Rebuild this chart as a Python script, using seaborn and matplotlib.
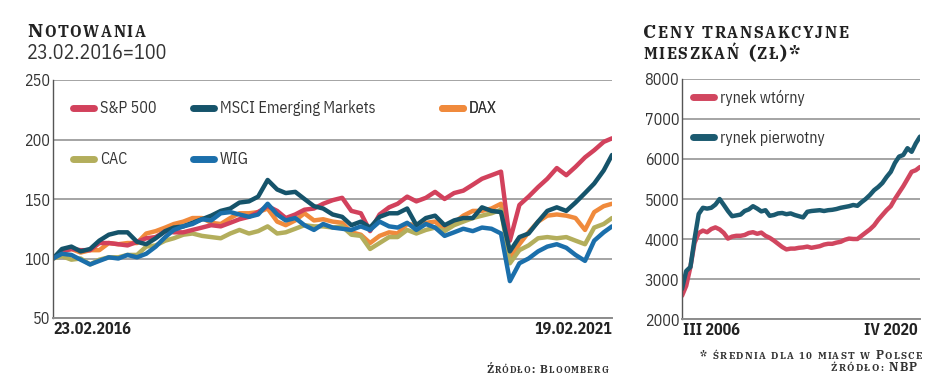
import matplotlib
matplotlib.use('Agg')
import pandas as pd
import matplotlib.pyplot as plt
import seaborn as sns
from matplotlib.lines import Line2D
from matplotlib.transforms import IdentityTransform

# Left chart: monthly index levels, 23.02.2016 = 100
sp500 = [100, 106, 108, 107, 107, 113, 113, 112, 111, 114, 117, 118, 123, 122, 122, 124,
         126, 128, 127, 130, 133, 135, 139, 144, 140, 134, 137, 141, 142, 146, 149, 151,
         140, 138, 123, 137, 143, 146, 152, 148, 151, 156, 150, 155, 157, 162, 167, 170,
         173, 115, 145, 152, 160, 167, 176, 170, 177, 185, 191, 198, 201]
msci_em = [100, 108, 110, 106, 108, 115, 120, 122, 122, 114, 112, 117, 123, 126, 127, 130,
           133, 136, 140, 142, 147, 148, 152, 166, 158, 155, 156, 150, 144, 142, 137, 135,
           128, 131, 126, 135, 138, 138, 142, 128, 134, 136, 128, 132, 134, 134, 143, 140,
           139, 106, 118, 121, 131, 140, 143, 140, 147, 155, 163, 174, 187]
dax = [100, 106, 108, 105, 107, 107, 113, 112, 113, 113, 121, 123, 126, 129, 131, 134,
       134, 130, 129, 134, 138, 138, 139, 142, 131, 128, 132, 138, 132, 133, 131, 130,
       122, 120, 113, 119, 122, 121, 129, 128, 130, 131, 124, 130, 136, 140, 140, 142,
       146, 100, 112, 122, 131, 136, 137, 136, 134, 124, 139, 144, 146]
cac = [100, 102, 99, 100, 95, 99, 101, 101, 103, 103, 110, 111, 115, 117, 120, 121,
       119, 118, 117, 121, 124, 121, 123, 127, 121, 122, 125, 128, 127, 127, 126, 127,
       120, 119, 108, 113, 118, 118, 124, 121, 124, 126, 123, 128, 131, 134, 136, 138,
       141, 96, 107, 111, 117, 118, 117, 118, 115, 112, 126, 129, 134]
wig = [100, 104, 103, 99, 95, 98, 101, 100, 103, 101, 104, 110, 118, 124, 127, 129,
       133, 132, 138, 139, 137, 135, 137, 146, 137, 132, 134, 128, 124, 129, 126, 125,
       124, 127, 124, 131, 127, 126, 130, 124, 129, 126, 119, 122, 125, 123, 126, 125,
       121, 81, 96, 100, 106, 110, 112, 109, 103, 98, 115, 122, 127]
index_names = ['S&P 500', 'MSCI Emerging Markets', 'DAX', 'CAC', 'WIG']
index_colors = ['#d2415c', '#15536a', '#f08a3c', '#b3ae5c', '#1b6fab']

# Right chart: quarterly flat prices (zł), III 2006 - IV 2020
rynek_pierwotny = [2750, 3200, 3300, 4000, 4625, 4780, 4760, 4780, 4860, 5000, 4850, 4700,
                   4570, 4590, 4610, 4700, 4740, 4820, 4760, 4690, 4720, 4580, 4600, 4640,
                   4650, 4620, 4640, 4600, 4570, 4540, 4680, 4700, 4710, 4720, 4700, 4720,
                   4730, 4750, 4780, 4800, 4820, 4850, 4830, 4920, 5000, 5100, 5220, 5300,
                   5400, 5550, 5680, 5900, 6060, 6100, 6270, 6180, 6390, 6560]
rynek_wtorny = [2580, 2830, 3300, 3900, 4150, 4210, 4170, 4250, 4290, 4240, 4150, 4010,
                4060, 4080, 4080, 4100, 4150, 4170, 4130, 4160, 4080, 4030, 3960, 3880,
                3800, 3740, 3760, 3760, 3780, 3790, 3810, 3780, 3800, 3820, 3860, 3880,
                3880, 3910, 3930, 3980, 4010, 4000, 4000, 4080, 4160, 4240, 4340, 4480,
                4600, 4720, 4820, 5000, 5160, 5320, 5500, 5680, 5720, 5800]
market_names = ['rynek wtórny', 'rynek pierwotny']
market_colors = ['#d1465f', '#1b5a70']

# Build long-form tables
dates = [pd.Timestamp(2016, 2, 23) + pd.DateOffset(months=i) for i in range(60)]
dates.append(pd.Timestamp(2021, 2, 19))
idx_df = pd.DataFrame({'date': dates, 'S&P 500': sp500, 'MSCI Emerging Markets': msci_em,
                       'DAX': dax, 'CAC': cac, 'WIG': wig})
idx_df = idx_df.melt(id_vars='date', var_name='index', value_name='value')

quarters = pd.period_range('2006Q3', '2020Q4', freq='Q').to_timestamp()
flat_df = pd.DataFrame({'quarter': quarters, 'rynek wtórny': rynek_wtorny,
                        'rynek pierwotny': rynek_pierwotny})
flat_df = flat_df.melt(id_vars='quarter', var_name='market', value_name='price')

sns.set_style('white')
cond = ['IBM Plex Sans Condensed', 'DejaVu Sans']
slab = ['IBM Plex Serif', 'DejaVu Serif']
plt.rcParams['font.family'] = cond

fig = plt.figure(figsize=(9.48, 3.92), dpi=100)
ax1 = fig.add_axes([53 / 948, 74 / 392, 559 / 948, 238 / 392])
ax2 = fig.add_axes([682 / 948, 73 / 392, 238 / 948, 240 / 392])

# Left chart - draw WIG last as in the original
order = ['DAX', 'CAC', 'S&P 500', 'MSCI Emerging Markets', 'WIG']
pal = dict(zip(index_names, index_colors))
sns.lineplot(data=idx_df, x='date', y='value', hue='index', hue_order=order,
             palette=pal, linewidth=3.2, legend=False, ax=ax1)
ax1.set_ylim(50, 250)
ax1.set_xlim(dates[0], dates[-1])
ax1.set_yticks([50, 100, 150, 200, 250])

# Right chart
pal2 = dict(zip(market_names, market_colors))
sns.lineplot(data=flat_df, x='quarter', y='price', hue='market', hue_order=market_names,
             palette=pal2, linewidth=3.2, legend=False, ax=ax2)
ax2.set_ylim(2000, 8000)
ax2.set_xlim(quarters[0], quarters[-1])
ax2.set_yticks(range(2000, 8001, 1000))

for ax in (ax1, ax2):
    ax.set_xlabel('')
    ax.set_ylabel('')
    ax.set_xticks([])
    ax.grid(axis='y', color='#8c8c8c', linewidth=1.1)
    ax.set_axisbelow(True)
    for s in ('top', 'right'):
        ax.spines[s].set_visible(False)
    ax.spines['left'].set_color('#555555')
    ax.spines['left'].set_linewidth(1.0)
    ax.spines['bottom'].set_color('#8c8c8c')
    ax.spines['bottom'].set_linewidth(1.4)
    ax.tick_params(axis='y', length=0, pad=2, labelsize=11.5, labelcolor='#333333')
    ax.set_facecolor('white')

# Legends (one per column, like the original layout)
def handle(c):
    return Line2D([], [], color=c, linewidth=5, solid_capstyle='round')

legend_cols = [(['S&P 500', 'CAC'], 0.035), (['MSCI Emerging Markets', 'WIG'], 0.25),
               (['DAX'], 0.695)]
for labels, xpos in legend_cols:
    leg = ax1.legend([handle(pal[l]) for l in labels], labels, loc='upper left',
                     bbox_to_anchor=(xpos, 0.915), frameon=False, fontsize=11.5,
                     handlelength=1.35, handletextpad=0.35, labelspacing=2.2,
                     borderaxespad=0, borderpad=0)
    for t in leg.get_texts():
        t.set_color('#333333')
    ax1.add_artist(leg)

leg2 = ax2.legend([handle(pal2[l]) for l in market_names], market_names, loc='upper left',
                  bbox_to_anchor=(0.045, 0.955), frameon=False, fontsize=11.5,
                  handlelength=1.35, handletextpad=0.35, labelspacing=1.5,
                  borderaxespad=0, borderpad=0)
for t in leg2.get_texts():
    t.set_color('#333333')

# X-axis end labels
lab = dict(fontsize=11.5, fontweight='bold', color='#222222', va='top')
fig.text(53 / 948, 1 - 322 / 392, '23.02.2016', ha='left', **lab)
fig.text(612 / 948, 1 - 322 / 392, '19.02.2021', ha='right', **lab)
fig.text(683 / 948, 1 - 323 / 392, 'III 2006', ha='left', **lab)
fig.text(918 / 948, 1 - 323 / 392, 'IV 2020', ha='right', **lab)

fig.text(27 / 948, 1 - 59 / 392, '23.02.2016=100', fontsize=14.5, color='#333333',
         ha='left', va='baseline')

# Small caps headings drawn letter by letter with extra tracking
renderer = fig.canvas.get_renderer()


def small_caps(x, y, pieces, track=0.0, align='left', color='#222222'):
    # x, y in pixels from top-left; pieces = list of (text, size)
    arts, widths = [], []
    for txt, size in pieces:
        for ch in txt:
            t = fig.text(0, 0, ch, fontsize=size, fontweight='bold', family=slab,
                         color=color, transform=IdentityTransform(), va='baseline')
            arts.append(t)
            if ch == ' ':
                w = size * 0.3 * 100 / 72
            else:
                w = t.get_window_extent(renderer).width
            widths.append(w + track)
    total = sum(widths) - track
    cur = x if align == 'left' else x - total
    for a, w in zip(arts, widths):
        a.set_position((cur, 392 - y))
        cur += w


small_caps(27, 37, [('N', 14), ('OTOWANIA', 11.2)], track=1.6)
small_caps(643, 38, [('C', 14), ('ENY TRANSAKCYJNE', 11.2)], track=1.6)
small_caps(643, 59, [('MIESZKAŃ', 11.2), (' (', 14), ('ZŁ', 11.2), (')*', 14)], track=1.6)
small_caps(608, 373, [('Ź', 8), ('RÓDŁO', 6.3), (': ', 8), ('B', 8), ('LOOMBERG', 6.3)],
           track=1.0, align='right', color='#333333')
small_caps(922, 359, [('* ', 8.6), ('ŚREDNIA DLA 10 MIAST W ', 6.9), ('P', 8.6), ('OLSCE', 6.9)],
           track=1.3, align='right', color='#333333')
small_caps(917, 371, [('ŹRÓDŁO: ', 6.9), ('NBP', 8.6)], track=1.3, align='right',
           color='#333333')

fig.savefig('out.png', dpi=100, facecolor='white')
